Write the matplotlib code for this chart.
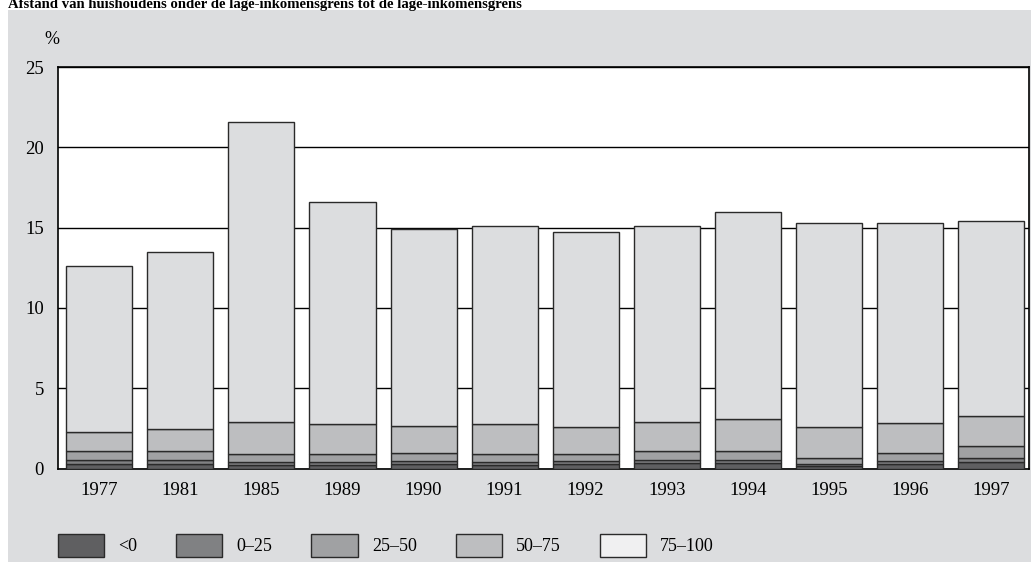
import matplotlib
matplotlib.use("Agg")
import matplotlib.pyplot as plt
from matplotlib.patches import Rectangle, Patch
import numpy as np

plt.rcParams['font.family'] = ['Liberation Serif', 'DejaVu Serif']

title = "Afstand van huishoudens onder de lage-inkomensgrens tot de lage-inkomensgrens"
years = ["1977", "1981", "1985", "1989", "1990", "1991", "1992", "1993", "1994", "1995", "1996", "1997"]
categories = ["<0", "0–25", "25–50", "50–75", "75–100"]

# percentages per band
below_0 = [0.27, 0.27, 0.20, 0.20, 0.25, 0.20, 0.31, 0.35, 0.35, 0.17, 0.31, 0.42]
band_0_25 = [0.29, 0.29, 0.20, 0.22, 0.23, 0.22, 0.17, 0.21, 0.21, 0.14, 0.17, 0.25]
band_25_50 = [0.50, 0.50, 0.48, 0.46, 0.50, 0.46, 0.42, 0.50, 0.50, 0.34, 0.50, 0.71]
band_50_75 = [1.21, 1.42, 2.02, 1.89, 1.69, 1.89, 1.70, 1.82, 2.00, 1.93, 1.87, 1.91]
band_75_100 = [10.33, 11.02, 18.70, 13.83, 12.23, 12.33, 12.10, 12.22, 12.94, 12.72, 12.45, 12.11]

bar_colors = ["#5f5f61", "#808183", "#a0a1a3", "#bdbec0", "#dcdddf"]
legend_colors = ["#5f5f61", "#808183", "#a0a1a3", "#bdbec0", "#f0f0f1"]
bg = "#dcdddf"
edge = "#2a2a2a"

W, H = 1031, 562
fig = plt.figure(figsize=(W / 100, H / 100), dpi=100)
fig.patch.set_facecolor("white")

# grey panel behind the chart
fig.patches.append(Rectangle((8 / W, 0), 1 - 8 / W, 1 - 10 / H, transform=fig.transFigure,
                             facecolor=bg, edgecolor="none", zorder=-10))

fig.text(8 / W, 1 - 8 / H, title, fontsize=10.6, fontweight="bold", va="baseline", ha="left")

ax = fig.add_axes([58 / W, (H - 468.5) / H, (1029 - 58) / W, (468.5 - 67) / H])
ax.set_facecolor("white")

x = np.arange(len(years))
series = [below_0, band_0_25, band_25_50, band_50_75, band_75_100]
bottom = np.zeros(len(years))
for vals, col in zip(series, bar_colors):
    ax.bar(x, vals, width=0.815, bottom=bottom, color=col, edgecolor=edge, linewidth=1.0, zorder=3)
    bottom += np.array(vals)

ax.set_xlim(-0.51, 11.47)
ax.set_ylim(0, 25)
ax.set_yticks([0, 5, 10, 15, 20, 25])
ax.set_xticks(x)
ax.set_xticklabels(years)
ax.tick_params(axis="both", length=0, labelsize=13.5)
ax.tick_params(axis="y", pad=10)
ax.tick_params(axis="x", pad=10)
ax.yaxis.grid(True, color="black", linewidth=1.0, zorder=1)
ax.set_axisbelow(True)
for s in ax.spines.values():
    s.set_color("black")
    s.set_linewidth(1.2)

fig.text(52 / W, 1 - 40 / H, "%", fontsize=13, ha="center", va="center")

handles = [Patch(facecolor=c, edgecolor=edge, linewidth=1.0) for c in legend_colors]
fig.legend(handles, categories, loc="lower left", bbox_to_anchor=(58 / W, 5 / H), ncol=5,
           frameon=False, fontsize=13, handlelength=2.55, handleheight=1.6,
           handletextpad=0.8, columnspacing=2.15, borderpad=0, borderaxespad=0)

fig.savefig("out.png", dpi=100, facecolor=fig.get_facecolor())
